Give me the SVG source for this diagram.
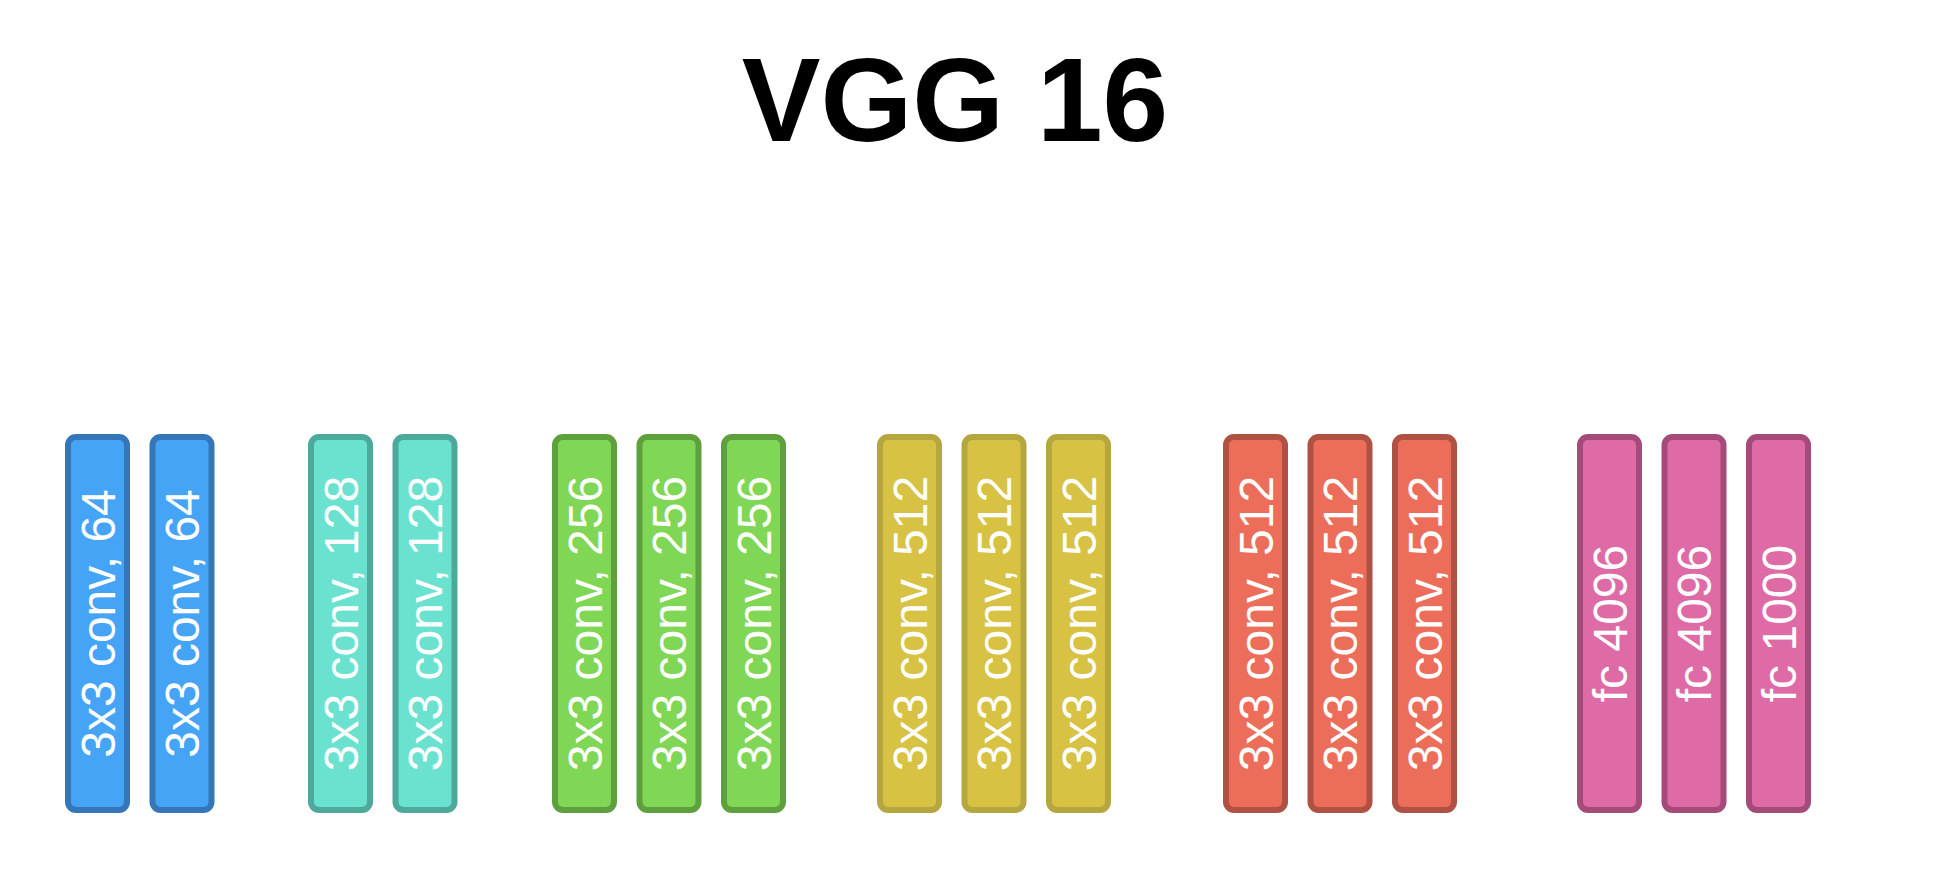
<svg xmlns="http://www.w3.org/2000/svg" width="1950" height="880" viewBox="0 0 1950 880">
<style>
.box{stroke-width:6}
.lbl{font-family:"Liberation Sans",Arial,sans-serif;font-size:48px;fill:#ffffff;text-anchor:middle}
.title{font-family:"Liberation Sans",Arial,sans-serif;font-size:118px;font-weight:bold;fill:#000;text-anchor:middle}
.blue{fill:#46A4F7;stroke:#3476B8}
.teal{fill:#6BE2CF;stroke:#4DA999}
.green{fill:#80D655;stroke:#5EA03D}
.yellow{fill:#D7C244;stroke:#B5A640}
.red{fill:#EC6E5A;stroke:#B05243}
.pink{fill:#DE6BA5;stroke:#A44B79}
</style>
<rect width="1950" height="880" fill="#ffffff"/>
<text class="title" x="955" y="141">VGG 16</text>
<g id="connectors"></g>
<g id="n1"><rect class="box blue" x="68" y="437" width="59" height="373" rx="8"/><text class="lbl" transform="translate(97.5,623.5) rotate(-90)" dy="17">3x3 conv, 64</text></g>
<g id="n2"><rect class="box blue" x="152.5" y="437" width="59" height="373" rx="8"/><text class="lbl" transform="translate(182,623.5) rotate(-90)" dy="17">3x3 conv, 64</text></g>
<g id="n3"><rect class="box teal" x="311" y="437" width="59" height="373" rx="8"/><text class="lbl" transform="translate(340.5,623.5) rotate(-90)" dy="17">3x3 conv, 128</text></g>
<g id="n4"><rect class="box teal" x="395.5" y="437" width="59" height="373" rx="8"/><text class="lbl" transform="translate(425,623.5) rotate(-90)" dy="17">3x3 conv, 128</text></g>
<g id="n5"><rect class="box green" x="555" y="437" width="59" height="373" rx="8"/><text class="lbl" transform="translate(584.5,623.5) rotate(-90)" dy="17">3x3 conv, 256</text></g>
<g id="n6"><rect class="box green" x="639.5" y="437" width="59" height="373" rx="8"/><text class="lbl" transform="translate(669,623.5) rotate(-90)" dy="17">3x3 conv, 256</text></g>
<g id="n7"><rect class="box green" x="724" y="437" width="59" height="373" rx="8"/><text class="lbl" transform="translate(753.5,623.5) rotate(-90)" dy="17">3x3 conv, 256</text></g>
<g id="n8"><rect class="box yellow" x="880" y="437" width="59" height="373" rx="8"/><text class="lbl" transform="translate(909.5,623.5) rotate(-90)" dy="17">3x3 conv, 512</text></g>
<g id="n9"><rect class="box yellow" x="964.5" y="437" width="59" height="373" rx="8"/><text class="lbl" transform="translate(994,623.5) rotate(-90)" dy="17">3x3 conv, 512</text></g>
<g id="n10"><rect class="box yellow" x="1049" y="437" width="59" height="373" rx="8"/><text class="lbl" transform="translate(1078.5,623.5) rotate(-90)" dy="17">3x3 conv, 512</text></g>
<g id="n11"><rect class="box red" x="1226" y="437" width="59" height="373" rx="8"/><text class="lbl" transform="translate(1255.5,623.5) rotate(-90)" dy="17">3x3 conv, 512</text></g>
<g id="n12"><rect class="box red" x="1310.5" y="437" width="59" height="373" rx="8"/><text class="lbl" transform="translate(1340,623.5) rotate(-90)" dy="17">3x3 conv, 512</text></g>
<g id="n13"><rect class="box red" x="1395" y="437" width="59" height="373" rx="8"/><text class="lbl" transform="translate(1424.5,623.5) rotate(-90)" dy="17">3x3 conv, 512</text></g>
<g id="n14"><rect class="box pink" x="1580" y="437" width="59" height="373" rx="8"/><text class="lbl" transform="translate(1609.5,623.5) rotate(-90)" dy="17">fc 4096</text></g>
<g id="n15"><rect class="box pink" x="1664.5" y="437" width="59" height="373" rx="8"/><text class="lbl" transform="translate(1694,623.5) rotate(-90)" dy="17">fc 4096</text></g>
<g id="n16"><rect class="box pink" x="1749" y="437" width="59" height="373" rx="8"/><text class="lbl" transform="translate(1778.5,623.5) rotate(-90)" dy="17">fc 1000</text></g>
</svg>
